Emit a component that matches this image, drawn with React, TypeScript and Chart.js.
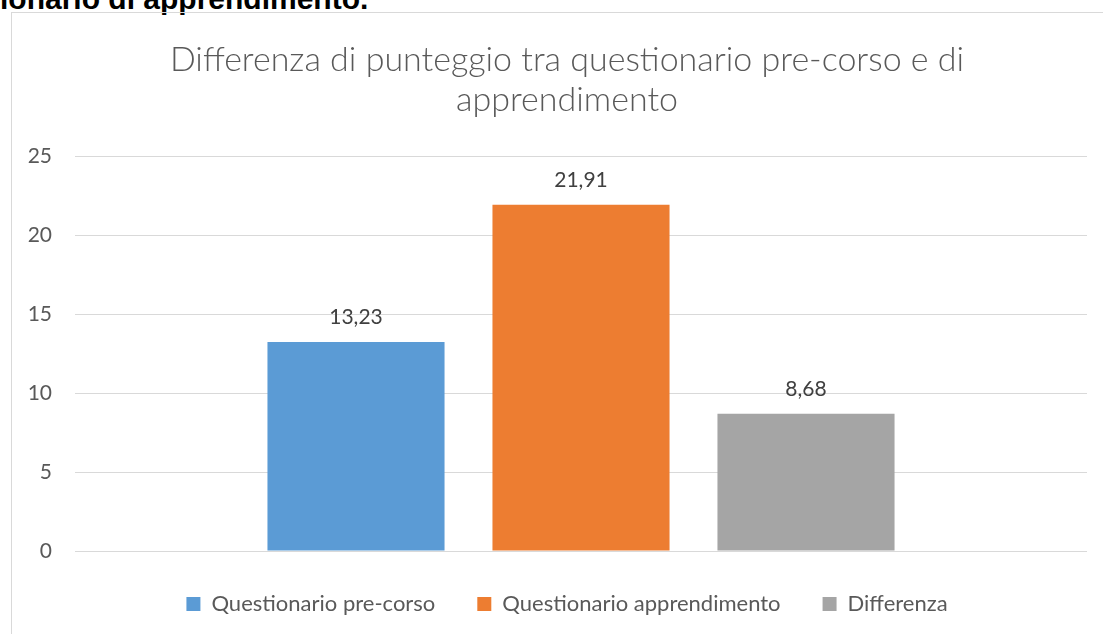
import React, { useEffect, useRef } from "react";
import { Chart, registerables } from "chart.js";

Chart.register(...registerables);

const categories = [""];
const seriesNames = ["Questionario pre-corso", "Questionario apprendimento", "Differenza"];
const seriesValues = [13.23, 21.91, 8.68];
const seriesColors = ["#5B9BD5", "#ED7D31", "#A5A5A5"];
const yTicks = [0, 5, 10, 15, 20, 25];
const titleLines = ["Differenza di punteggio tra questionario pre-corso e di", "apprendimento"];
const headingText = "ionario di apprendimento.";

const FONT = "Lato, 'Noto Sans', sans-serif";

const valueLabels = {
  id: "valueLabels",
  afterDatasetsDraw(chart: any) {
    const ctx = chart.ctx;
    ctx.save();
    ctx.font = `21px ${FONT}`;
    ctx.fillStyle = "#404040";
    ctx.textAlign = "center";
    ctx.textBaseline = "middle";
    chart.data.datasets.forEach((ds: any, i: number) => {
      const meta = chart.getDatasetMeta(i);
      meta.data.forEach((bar: any, j: number) => {
        const v = ds.data[j];
        ctx.fillText(v.toFixed(2).replace(".", ","), bar.x, bar.y - 25);
      });
    });
    ctx.restore();
  },
};

export default function App() {
  const ref = useRef<HTMLCanvasElement>(null);
  useEffect(() => {
    if (!ref.current) return;
    const chart = new Chart(ref.current, {
      type: "bar",
      data: {
        labels: categories,
        datasets: seriesNames.map((name, i) => ({
          label: name,
          data: [seriesValues[i]],
          backgroundColor: seriesColors[i],
          borderWidth: 0,
          categoryPercentage: 0.667,
          barPercentage: 0.787,
        })),
      },
      options: {
        animation: false,
        responsive: false,
        maintainAspectRatio: false,
        layout: { padding: 0 },
        plugins: {
          title: {
            display: true,
            text: titleLines,
            color: "#595959",
            font: { family: FONT, size: 34, weight: "300" as any, lineHeight: "40px" as any },
            padding: { top: 27, bottom: 36 },
          },
          legend: {
            position: "bottom",
            labels: {
              boxWidth: 14,
              boxHeight: 14,
              color: "#595959",
              font: { family: FONT, size: 22 },
              padding: 42,
            },
          },
          tooltip: { enabled: false },
        },
        scales: {
          x: {
            grid: { display: false, drawTicks: false },
            border: { display: false },
            ticks: { display: false },
          },
          y: {
            min: 0,
            max: 25,
            afterBuildTicks: (axis: any) => {
              axis.ticks = yTicks.map((v) => ({ value: v }));
            },
            afterFit: (axis: any) => {
              axis.width = 63;
            },
            grid: { color: "#D9D9D9", lineWidth: 1, drawTicks: false },
            border: { display: false },
            ticks: {
              color: "#595959",
              font: { family: FONT, size: 21 },
              padding: 23,
            },
          },
          yRight: {
            position: "right",
            min: 0,
            max: 25,
            grid: { display: false, drawTicks: false },
            border: { display: false },
            ticks: { display: false },
            afterFit: (axis: any) => {
              axis.width = 35;
            },
          },
        },
      },
      plugins: [valueLabels],
    });
    return () => chart.destroy();
  }, []);

  return (
    <div style={{ position: "fixed", left: 0, top: 0, width: 1103, height: 634, overflow: "hidden", background: "#fff" }}>
      <div
        style={{
          position: "absolute",
          left: 0,
          top: -16,
          fontFamily: "'Liberation Sans', Arial, sans-serif",
          fontWeight: "bold",
          fontSize: 30,
          lineHeight: "30px",
          color: "#000",
          whiteSpace: "nowrap",
        }}
      >
        {headingText}
      </div>
      <div
        style={{
          position: "absolute",
          left: 11,
          top: 12,
          width: 1112,
          height: 660,
          border: "1px solid #D9D9D9",
          boxSizing: "border-box",
        }}
      />
      <canvas ref={ref} width={1110} height={612} style={{ position: "absolute", left: 12, top: 13 }} />
    </div>
  );
}
